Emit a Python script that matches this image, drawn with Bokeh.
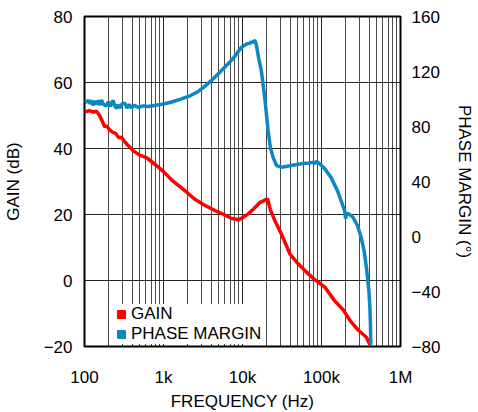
from bokeh.plotting import figure
from bokeh.models import Range1d, LinearAxis, FixedTicker, Legend, LegendItem
from bokeh.embed import file_html
from bokeh.resources import INLINE

# ---- data ----
gain_freq = [100, 115, 130, 142, 155, 170, 181, 190, 205, 225, 250, 270, 294, 320, 360, 420, 500, 609,
             800, 1000, 1264, 1600, 2000, 2500, 3200, 4478, 5800, 7270, 8300, 8830, 9500, 10300, 11800,
             14000, 16700, 19000, 20700, 22500, 25600, 31100, 39700, 50000, 61600, 80000, 110000, 146000,
             190000, 229000, 290000, 370000, 410000]
gain_db = [51, 51.5, 51, 51.3, 50, 48, 46.5, 47, 45.8, 45, 44.5, 43.3, 43.4, 42.2, 40.8, 39.2, 38, 37.2,
           35, 33, 30.5, 28.5, 26.6, 24.6, 23, 21.2, 20, 18.8, 18.6, 18.3, 18.8, 19.2, 20.2,
           21.8, 23.7, 24.3, 24.8, 21.5, 18.2, 14.1, 8.1, 5.2, 3.0, 0.5, -2.0, -6.1,
           -9, -12.1, -15, -17.2, -19.5]

phase_freq = [100, 106, 112, 118, 122, 128, 135, 142, 150, 158, 164, 172, 180, 190, 200, 212, 225, 231,
              240, 254, 265, 280, 300, 324, 345, 370, 393, 430, 480, 550, 641, 800, 1036, 1300, 1687,
              2200, 2750, 3300, 4050, 5430, 7500, 9740, 11250, 12500, 13000, 13500, 14000, 14500, 15000,
              16000, 17300, 19100, 21100, 22500, 24300, 27000, 31000, 40000, 55000, 70000, 80000, 84000,
              86000, 90000, 100000, 110000, 132000, 160000, 196000, 202000, 206000, 215000, 250000,
              285000, 317000, 345000, 370000, 398000, 410000, 417000, 420000]
phase_deg = [97.5, 98, 99, 96.5, 99, 95.5, 98.5, 96, 99, 95.5, 99.4, 96.5, 95.5, 95, 98, 94.5, 98, 99,
             95.5, 92.9, 96, 93.5, 96.5, 97, 93.5, 96, 93.5, 95.5, 93.8, 95, 94.5, 95.5, 96.5, 98, 100.1,
             102.5, 105.5, 109, 113.5, 120.7, 129, 137.7, 140, 140.5, 141.8, 141, 142.5, 142, 139,
             130, 120.7, 101.3, 77, 65, 57.7, 51.5, 50.4, 51.5, 52.9, 53.5, 54, 53,
             54.8, 54, 51.6, 49.2, 43, 33, 18.9, 13, 15.5, 17, 14,
             8, -0.5, -10, -22.3, -39.3, -52, -65, -79]

x_ticks = [100, 1000, 10000, 100000, 1000000]
x_tick_labels = ["100", "1k", "10k", "100k", "1M"]
gain_ticks = [-20, 0, 20, 40, 60, 80]
phase_ticks = [-80, -40, 0, 40, 80, 120, 160]

FONT = "Liberation Sans"
RED = "#ff0000"
BLUE = "#0b87c3"

p = figure(x_axis_type="log", x_range=Range1d(100, 1e6), y_range=Range1d(-20, 80),
           frame_width=316, frame_height=330,
           min_border_left=75, min_border_top=16, min_border_right=71, min_border_bottom=56,
           output_backend="svg", toolbar_location=None)
p.extra_y_ranges = {"phase": Range1d(-80, 160)}

minor = [m * d for d in [100, 1000, 10000, 100000] for m in range(2, 10)]
p.xaxis.ticker = FixedTicker(ticks=x_ticks, minor_ticks=minor)
p.xaxis.major_label_overrides = {t: l for t, l in zip(x_ticks, x_tick_labels)}
left = p.left[0]
left.ticker = FixedTicker(ticks=gain_ticks)

right = LinearAxis(y_range_name="phase", ticker=FixedTicker(ticks=phase_ticks))
p.add_layout(right, "right")

p.xaxis.axis_label = "FREQUENCY (Hz)"
left.axis_label = "GAIN (dB)"
right.axis_label = "PHASE MARGIN (°)"

for ax in p.axis:
    ax.axis_line_color = None
    ax.major_tick_out = 0
    ax.major_tick_in = 0
    ax.minor_tick_out = 0
    ax.minor_tick_in = 0
    ax.major_label_text_font = FONT
    ax.major_label_text_font_size = "17px"
    ax.major_label_text_color = "black"
    ax.axis_label_text_font = FONT
    ax.axis_label_text_font_size = "17px"
    ax.axis_label_text_font_style = "normal"
    ax.axis_label_text_color = "black"

p.xaxis.major_label_standoff = 21
p.xaxis.axis_label_standoff = 2
left.major_label_standoff = 12
left.axis_label_standoff = 18
right.major_label_standoff = 11
right.axis_label_standoff = 12

p.xgrid.grid_line_color = "black"
p.xgrid.grid_line_alpha = 0.85
p.xgrid.minor_grid_line_color = "black"
p.xgrid.minor_grid_line_alpha = 0.7
p.ygrid.grid_line_color = "black"
p.ygrid.grid_line_alpha = 0.85

p.outline_line_color = "black"
p.outline_line_width = 2
p.outline_line_alpha = 1

p.line(gain_freq, gain_db, color=RED, line_width=3.5)
p.line(phase_freq, phase_deg, y_range_name="phase", color=BLUE, line_width=3.5)

# legend swatches (square markers), hidden from the plot area itself
lg_gain = p.scatter(gain_freq[:1], gain_db[:1], marker="square", color=RED, visible=False)
lg_phase = p.scatter(phase_freq[:1], phase_deg[:1], y_range_name="phase", marker="square",
                     color=BLUE, visible=False)

legend = Legend(items=[LegendItem(label="GAIN", renderers=[lg_gain]),
                       LegendItem(label="PHASE MARGIN", renderers=[lg_phase])],
                location=(27, 2), orientation="vertical",
                background_fill_color="white", background_fill_alpha=1,
                border_line_color=None, padding=2, spacing=0, margin=0,
                glyph_width=20, glyph_height=20, label_height=20, label_standoff=0,
                inactive_fill_alpha=0,
                label_text_font=FONT, label_text_font_size="17px", label_text_color="black")
p.add_layout(legend)

open("out.html", "w").write(file_html(p, INLINE))
